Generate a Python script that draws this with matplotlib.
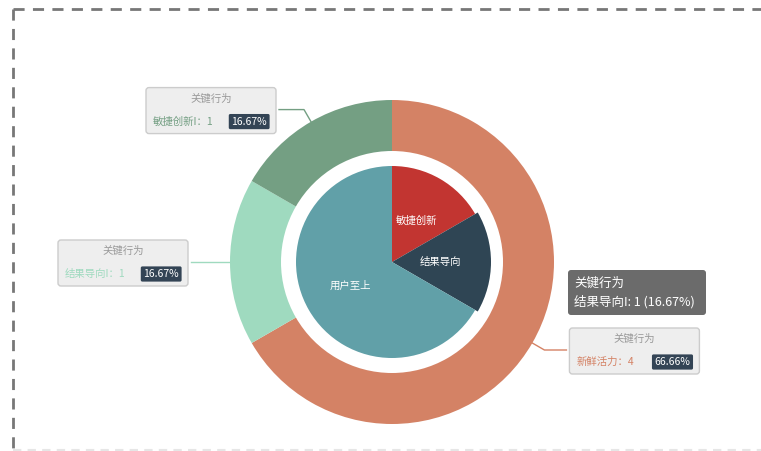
import matplotlib
matplotlib.use("Agg")
import matplotlib.pyplot as plt
from matplotlib.patches import FancyBboxPatch
import numpy as np

plt.rcParams["font.family"] = ["Noto Sans CJK SC", "DejaVu Sans"]

# ─── DATA ────────────────────────────────────────────────────────────────────
inner_names  = ["敏捷创新", "结果导向", "用户至上"]
inner_values = [1, 1, 4]
inner_colors = ["#c23531", "#2f4554", "#61a0a8"]

outer_names  = ["新鲜活力", "结果导向I", "敏捷创新I"]
outer_values = [4, 1, 1]
outer_pcts   = ["66.66%", "16.67%", "16.67%"]
outer_colors = ["#d48265", "#9fdabf", "#749f83"]

series_name = "关键行为"
tooltip_lines = ["关键行为", "结果导向I: 1 (16.67%)"]

W, H = 761, 451
CX, CY = 392, H - 262
R_IN, R_OUT_IN, R_OUT = 96, 111, 162

fig = plt.figure(figsize=(W / 100, H / 100), dpi=100)
ax = fig.add_axes([0, 0, 1, 1])

# dashed frame
ax.plot([13, 13], [H - 9, 0], color="#777777", lw=2, ls=(0, (4, 3)))
ax.plot([13, W], [H - 9, H - 9], color="#777777", lw=2, ls=(0, (4, 3)))
ax.plot([13, W], [1, 1], color="#e6e6e6", lw=1.5, ls=(0, (4, 3)))

# inner pie
wedges_in, texts_in = ax.pie(
    inner_values, labels=inner_names, colors=inner_colors, startangle=90,
    counterclock=False, radius=R_IN, center=(CX, CY), labeldistance=0.5,
    wedgeprops=dict(linewidth=0), frame=True,
    textprops=dict(color="white", fontsize=7.5, ha="center", va="center"),
)
wedges_in[1].set_radius(R_IN + 3)  # hovered slice

# outer ring
wedges_out, _ = ax.pie(
    outer_values, colors=outer_colors, startangle=90, counterclock=False,
    radius=R_OUT, center=(CX, CY), frame=True,
    wedgeprops=dict(width=R_OUT - R_OUT_IN, linewidth=0),
)
ax.set_xlim(0, W)
ax.set_ylim(0, H)
ax.set_aspect("equal")
ax.axis("off")

# labels with leader lines
box_w, box_h = 130, 46
for w, name, val, pct, col in zip(wedges_out, outer_names, outer_values, outer_pcts, outer_colors):
    mid = np.deg2rad((w.theta1 + w.theta2) / 2)
    x0, y0 = CX + R_OUT * np.cos(mid), CY + R_OUT * np.sin(mid)
    x1, y1 = CX + (R_OUT + 14) * np.cos(mid), CY + (R_OUT + 14) * np.sin(mid)
    side = 1 if np.cos(mid) > 0.01 else -1
    x2 = x1 + side * (22 if side > 0 else 25)
    ax.plot([x0, x1, x2], [y0, y1, y1], color=col, lw=1, zorder=2)
    bx = x2 + 3 if side > 0 else x2 - 3 - box_w
    by = y1 - box_h / 2 - 1
    ax.add_patch(FancyBboxPatch((bx, by), box_w, box_h,
                                boxstyle="round,pad=0,rounding_size=3",
                                facecolor="#eeeeee", edgecolor="#cccccc", lw=1, zorder=3))
    ax.text(bx + box_w / 2, by + box_h - 11, series_name, color="#999999",
            fontsize=7.5, ha="center", va="center", zorder=4)
    ax.text(bx + 7, by + 12, f"{name}：{val}", color=col,
            fontsize=7.5, ha="left", va="center", zorder=4)
    ax.text(bx + box_w - 9, by + 12, pct, color="white", fontsize=7.5,
            ha="right", va="center", zorder=4,
            bbox=dict(boxstyle="round,pad=0.25,rounding_size=0.15",
                      facecolor="#334455", edgecolor="none"))

# tooltip
tx, ty, tw, th = 568, H - 315, 138, 45
ax.add_patch(FancyBboxPatch((tx, ty), tw, th, boxstyle="round,pad=0,rounding_size=3",
                            facecolor="#323232", alpha=0.72, edgecolor="#333333", lw=0, zorder=5))
ax.text(tx + 6, ty + th - 13, tooltip_lines[0], color="white", fontsize=9,
        ha="left", va="center", zorder=6)
ax.text(tx + 6, ty + 13, tooltip_lines[1], color="white", fontsize=9,
        ha="left", va="center", zorder=6)

fig.savefig("out.png", dpi=100)
